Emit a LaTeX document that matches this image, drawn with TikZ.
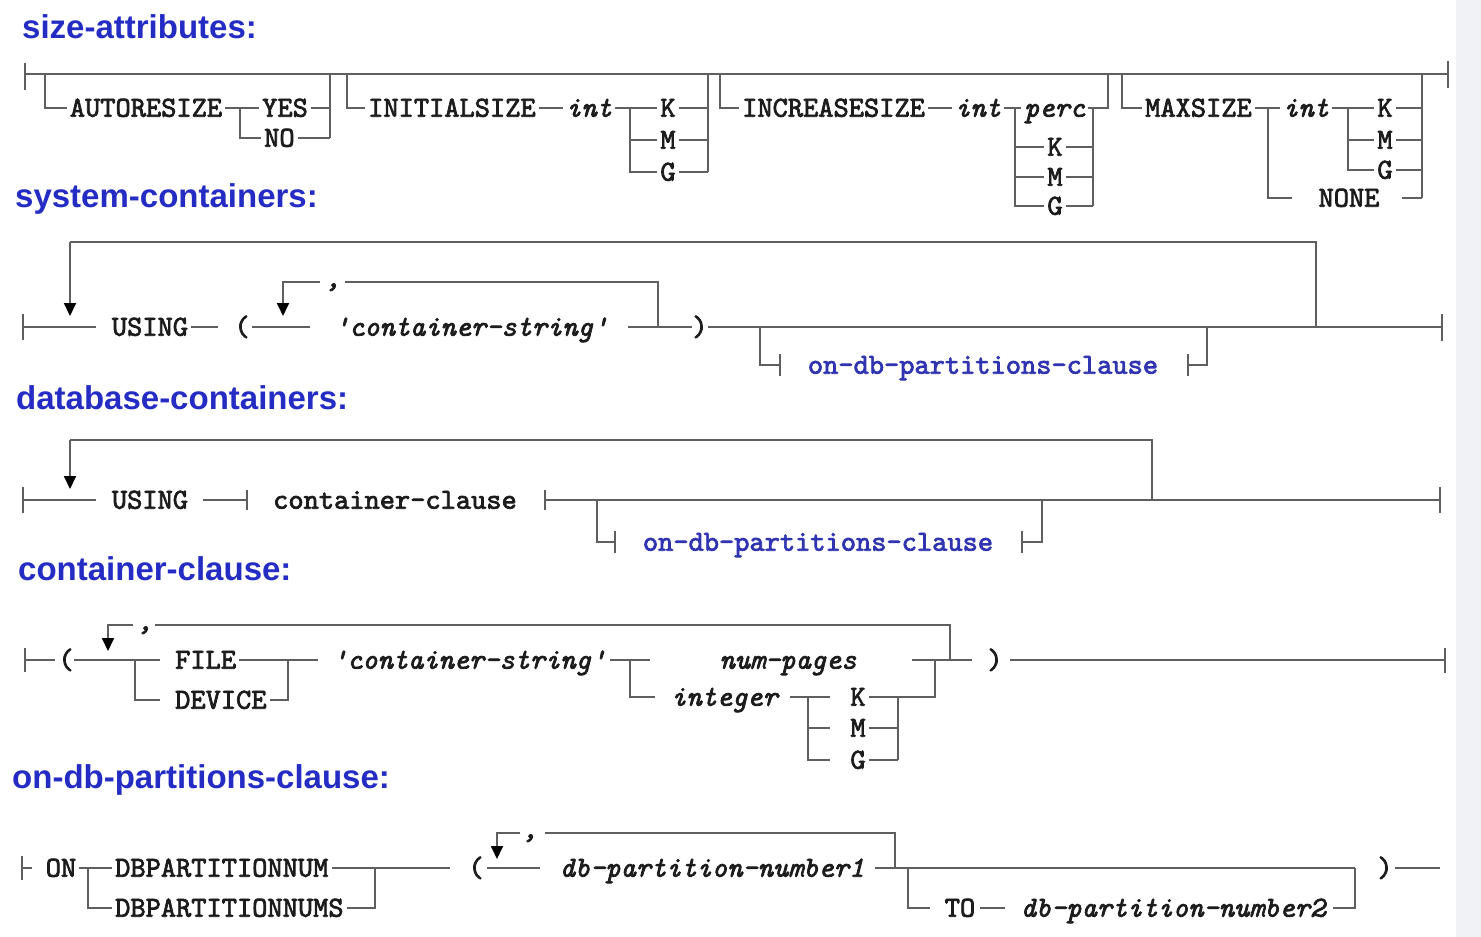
\documentclass[tikz,border=0pt]{standalone}
\usepackage{fontspec}
\newfontfamily\headfont{Liberation Sans}
\newfontfamily\kwfont[FakeBold=2.5,ItalicFont=lmmono10-italic.otf]{lmmono10-regular.otf}
\usetikzlibrary{arrows.meta}
\definecolor{headblue}{RGB}{36,44,196}
\definecolor{refblue}{RGB}{48,52,176}
\definecolor{lngray}{RGB}{95,95,95}
\definecolor{txtblack}{RGB}{28,28,28}
\definecolor{edgegray}{RGB}{241,242,245}
\tikzset{
  ln/.style={draw=lngray,line width=1.8pt},
  loopln/.style={ln,-{Triangle[width=12pt,length=13pt,color=black]}},
  kw/.style={font=\kwfont\fontsize{29}{29}\selectfont,text=txtblack,inner xsep=3pt,inner ysep=0pt,text height=17.4pt,text depth=0pt},
  var/.style={kw,font=\kwfont\itshape\fontsize{29}{29}\selectfont},
  refl/.style={kw,text=refblue},
  head/.style={font=\headfont\bfseries\fontsize{33}{33}\selectfont,text=headblue,anchor=west,inner sep=0pt},
  sepc/.style={font=\kwfont\itshape\fontsize{29}{29}\selectfont,text=txtblack,anchor=base,inner sep=0pt}
}
\begin{document}
\begin{tikzpicture}[x=1pt,y=-1pt]
\useasboundingbox (0,0) rectangle (1481,937);
\fill[white] (0,0) rectangle (1481,937);
\fill[edgegray] (1456,0) rectangle (1481,937);

% ---------------- size-attributes ----------------
\node[head] (hSA) at (22,27) {size-attributes:};
\draw[ln] (25,63)--(25,90);
\draw[ln] (25,74)--(1448,74);
\draw[ln] (1448,61)--(1448,88);
% group 1
\node[kw] (au) at (146,108) {AUTORESIZE};
\node[kw,anchor=west] (yes) at (259,108) {YES};
\node[kw,anchor=west] (no) at (261,138) {NO};
\draw[ln] (45,74) |- (au.west);
\draw[ln] (au.east) -- (yes.west);
\draw[ln] (240,108) |- (no.west);
\draw[ln] (yes.east) -- (330,108);
\draw[ln] (no.east) -- (330,138);
\draw[ln] (330,74) -- (330,138);
% group 2
\node[kw,anchor=west] (is) at (365,108) {INITIALSIZE};
\node[var,anchor=west] (i1) at (563,108) {int};
\node[kw] (k1) at (668,108) {K};
\node[kw] (m1) at (668,140) {M};
\node[kw] (g1) at (668,172) {G};
\draw[ln] (347,74) |- (is.west);
\draw[ln] (is.east) -- (i1.west);
\draw[ln] (i1.east) -- (k1.west);
\draw[ln] (630,108) |- (g1.west);
\draw[ln] (630,140) -- (m1.west);
\draw[ln] (k1.east) -- (708,108);
\draw[ln] (m1.east) -- (708,140);
\draw[ln] (g1.east) -- (708,172);
\draw[ln] (708,74) -- (708,172);
% group 3
\node[kw,anchor=west] (inc) at (739,108) {INCREASESIZE};
\node[var,anchor=west] (i2) at (952,108) {int};
\node[var,anchor=west] (perc) at (1021,108) {perc};
\node[kw] (k2) at (1055,147) {K};
\node[kw] (m2) at (1055,177) {M};
\node[kw] (g2) at (1055,206) {G};
\draw[ln] (720,74) |- (inc.west);
\draw[ln] (inc.east) -- (i2.west);
\draw[ln] (i2.east) -- (perc.west);
\draw[ln] (perc.east) -- (1108,108) -- (1108,74);
\draw[ln] (1015,108) |- (g2.west);
\draw[ln] (1015,147) -- (k2.west);
\draw[ln] (1015,177) -- (m2.west);
\draw[ln] (k2.east) -- (1093,147);
\draw[ln] (m2.east) -- (1093,177);
\draw[ln] (g2.east) -- (1093,206);
\draw[ln] (1093,108) -- (1093,206);
% group 4
\node[kw,anchor=west] (max) at (1142,108) {MAXSIZE};
\node[var,anchor=west] (i3) at (1280,108) {int};
\node[kw] (k3) at (1385,108) {K};
\node[kw] (m3) at (1385,140) {M};
\node[kw] (g3) at (1385,170) {G};
\node[kw] (none) at (1349,198) {NONE};
\draw[ln] (1122,74) |- (max.west);
\draw[ln] (max.east) -- (i3.west);
\draw[ln] (i3.east) -- (k3.west);
\draw[ln] (1348,108) |- (g3.west);
\draw[ln] (1348,140) -- (m3.west);
\draw[ln] (1268,108) -- (1268,198) -- (1292,198);
\draw[ln] (1402,198) -- (1422,198);
\draw[ln] (k3.east) -- (1422,108);
\draw[ln] (m3.east) -- (1422,140);
\draw[ln] (g3.east) -- (1422,170);
\draw[ln] (1422,74) -- (1422,198);

% ---------------- system-containers ----------------
\node[head] (hSC) at (15,199) {system-containers:};
\draw[ln] (23,314)--(23,340);
\draw[ln] (23,327)--(96,327);
\node[kw] (us1) at (150,327) {USING};
\draw[ln] (us1.east)--(218,327);
\node[kw] (lp1) at (242,327) {(};
\draw[ln] (252,327)--(310,327);
\node[var] (cs1) at (471,327) {'container-string'};
\draw[ln] (628,327)--(692,327);
\node[kw] (rp1) at (700,327) {)};
\draw[ln] (708,327)--(1442,327);
\draw[ln] (1442,314)--(1442,341);
\draw[ln] (1316,327)--(1316,242)--(70,242);
\draw[loopln] (70,242)--(70,316);
\draw[ln] (658,327)--(658,282)--(345,282);
\node[sepc] (c1) at (333,287) {,};
\draw[loopln] (320,282)--(283,282)--(283,316);
\draw[ln] (760,327)--(760,365)--(780,365);
\draw[ln] (780,354)--(780,376);
\node[refl] (od1) at (983,365) {on-db-partitions-clause};
\draw[ln] (1188,354)--(1188,376);
\draw[ln] (1188,365)--(1207,365)--(1207,327);

% ---------------- database-containers ----------------
\node[head] (hDC) at (16,398) {database-containers:};
\draw[ln] (23,487)--(23,513);
\draw[ln] (23,500)--(96,500);
\node[kw] (us2) at (150,500) {USING};
\draw[ln] (203,500)--(247,500);
\draw[ln] (247,490)--(247,510);
\node[kw] (cc) at (395,500) {container-clause};
\draw[ln] (545,490)--(545,510);
\draw[ln] (545,500)--(1440,500);
\draw[ln] (1440,487)--(1440,513);
\draw[ln] (1152,500)--(1152,440)--(70,440);
\draw[loopln] (70,440)--(70,489);
\draw[ln] (597,500)--(597,542)--(615,542);
\draw[ln] (615,531)--(615,553);
\node[refl] (od2) at (818,542) {on-db-partitions-clause};
\draw[ln] (1022,531)--(1022,553);
\draw[ln] (1022,542)--(1042,542)--(1042,500);

% ---------------- container-clause ----------------
\node[head] (hCC) at (18,569) {container-clause:};
\draw[ln] (25,648)--(25,672);
\draw[ln] (25,660)--(55,660);
\node[kw] (lp2) at (66,660) {(};
\draw[ln] (74,660)--(160,660);
\node[kw,anchor=west] (file) at (172,660) {FILE};
\node[kw,anchor=west] (dev) at (172,700) {DEVICE};
\draw[ln] (135,660) |- (160,700);
\draw[ln] (file.east)--(318,660);
\draw[ln] (dev.east)--(288,700)--(288,660);
\node[var] (cs2) at (469,660) {'container-string'};
\draw[ln] (610,660)--(650,660);
\draw[ln] (630,660) |- (655,697);
\node[var] (np) at (788,660) {num-pages};
\node[var,anchor=west] (integ) at (668,697) {integer};
\draw[ln] (790,697)--(830,697);
\draw[ln] (808,697)--(808,760)--(830,760);
\draw[ln] (808,728)--(830,728);
\node[kw] (k4) at (858,697) {K};
\node[kw] (m4) at (858,728) {M};
\node[kw] (g4) at (858,760) {G};
\draw[ln] (k4.east)--(935,697)--(935,660);
\draw[ln] (m4.east)--(898,728);
\draw[ln] (g4.east)--(898,760);
\draw[ln] (898,697)--(898,760);
\draw[ln] (912,660)--(972,660);
\draw[ln] (950,660)--(950,625)--(155,625);
\node[sepc] (c2) at (145,630) {,};
\draw[loopln] (133,625)--(108,625)--(108,651);
\node[kw] (rp2) at (995,660) {)};
\draw[ln] (1010,660)--(1445,660);
\draw[ln] (1445,648)--(1445,673);

% ---------------- on-db-partitions-clause ----------------
\node[head] (hOD) at (12,780) {on-db-partitions-clause:};
\draw[ln] (22,856)--(22,880);
\draw[ln] (22,868)--(32,868);
\node[kw] (on) at (61,868) {ON};
\node[kw,anchor=west] (dbp1) at (112,868) {DBPARTITIONNUM};
\node[kw,anchor=west] (dbp2) at (112,908) {DBPARTITIONNUMS};
\draw[ln] (on.east)--(dbp1.west);
\draw[ln] (88,868) |- (dbp2.west);
\draw[ln] (dbp1.east)--(450,868);
\draw[ln] (dbp2.east)--(375,908)--(375,868);
\node[kw] (lp3) at (476,868) {(};
\draw[ln] (487,868)--(540,868);
\draw[ln] (895,868)--(895,833)--(545,833);
\node[sepc] (c3) at (530,838) {,};
\draw[loopln] (520,833)--(497,833)--(497,859);
\node[var] (dpn1) at (712,868) {db-partition-number1};
\draw[ln] (875,868)--(1355,868);
\draw[ln] (908,868) |- (930,908);
\node[kw] (to) at (960,908) {TO};
\draw[ln] (980,908)--(1005,908);
\node[var] (dpn2) at (1173,908) {db-partition-number2};
\draw[ln] (1333,908)--(1355,908)--(1355,868);
\node[kw] (rp3) at (1385,868) {)};
\draw[ln] (1395,868)--(1440,868);
\end{tikzpicture}
\end{document}
